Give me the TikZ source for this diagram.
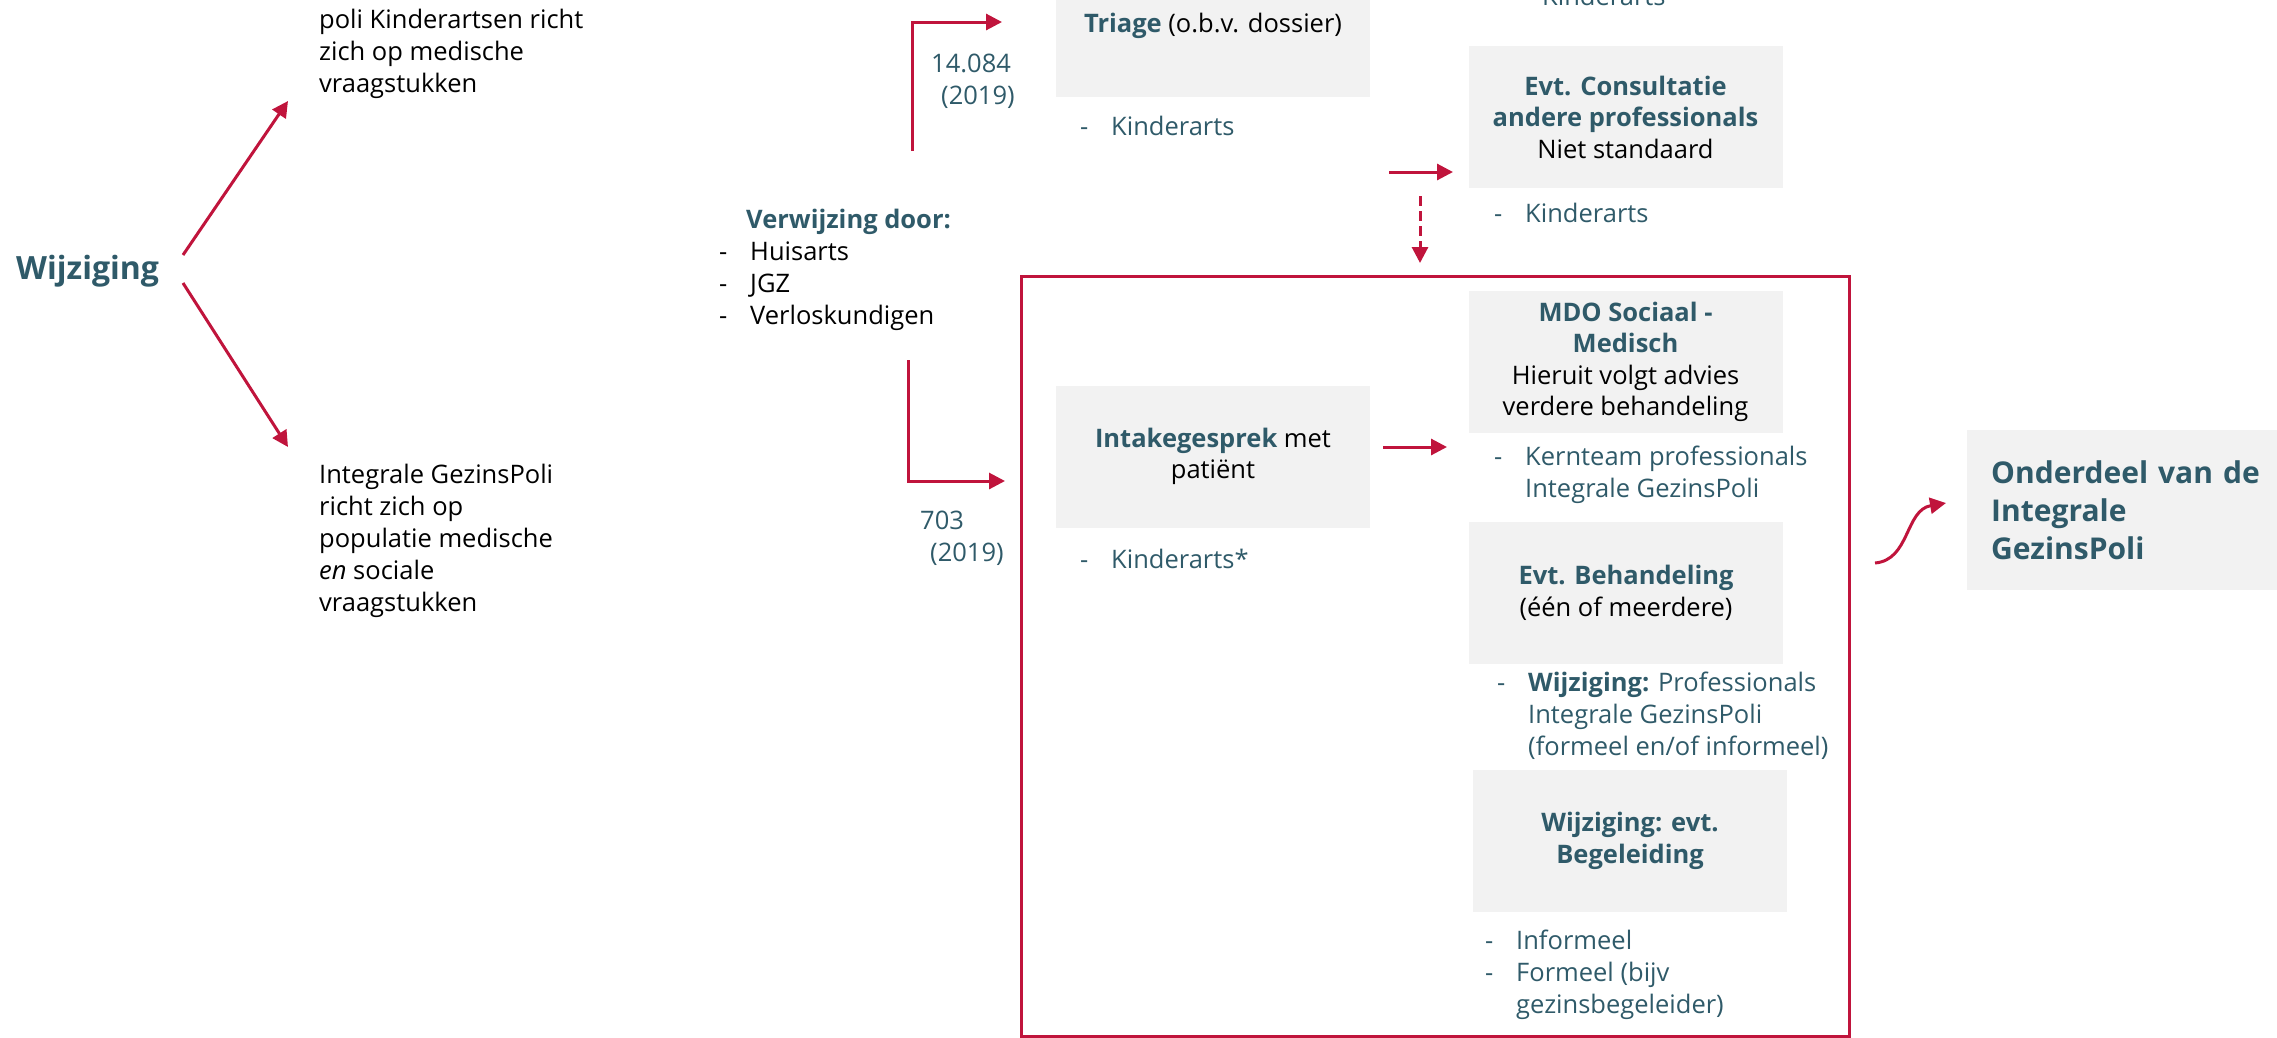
\documentclass[tikz,border=0pt]{standalone}
\usepackage{fontspec}
\setmainfont{Open Sans}
\usetikzlibrary{arrows.meta}
\definecolor{tealc}{HTML}{2F5A69}
\definecolor{redc}{HTML}{C0143C}
\definecolor{boxgray}{HTML}{F2F2F2}
\newlength{\dashw}\setlength{\dashw}{31pt}
\newcommand{\li}[1]{\makebox[\dashw][l]{-}#1}
\newcommand{\lc}[1]{\hspace*{\dashw}#1}
\begin{document}
\begin{tikzpicture}[x=1pt,y=-1pt,
  txt/.style={inner sep=0pt, align=left, font=\fontsize{25.5}{32}\selectfont},
  ttxt/.style={txt, text=tealc},
  box/.style={fill=boxgray, minimum width=314pt, minimum height=142pt, inner sep=0pt, align=center, font=\fontsize{25.5}{31.5}\selectfont},
  arr/.style={draw=redc, line width=3pt, -{Triangle[length=16pt,width=16pt]}}
]
\useasboundingbox (0,0) rectangle (2277,1037);
\clip (0,0) rectangle (2277,1037);

% left part (multi-line nodes: base anchor = last line's baseline)
\node[txt, anchor=base west, text=tealc, font=\fontsize{32}{38}\selectfont\bfseries] (wijz) at (16,279) {Wijziging};
\node[txt, anchor=base west] (poli) at (319,92.5) {poli Kinderartsen richt\\zich op medische\\vraagstukken};
\node[txt, anchor=base west] (igp) at (319,611) {Integrale GezinsPoli\\richt zich op\\populatie medische\\\emph{en} sociale\\vraagstukken};

\coordinate (p1a) at (183,255); \coordinate (p1b) at (288,101);
\coordinate (p2a) at (183,283); \coordinate (p2b) at (288,447);
\draw[arr] (p1a) -- (p1b);
\draw[arr] (p2a) -- (p2b);

% referral
\node[txt, anchor=base west] (verw) at (719,324.5) {\hspace*{27pt}{\color{tealc}\bfseries Verwijzing door:}\\\li{Huisarts}\\\li{JGZ}\\\li{Verloskundigen}};
\node[ttxt, anchor=base west] (n1) at (931,104) {14.084\\\hspace*{10pt}(2019)};
\node[ttxt, anchor=base west] (n2) at (920,561) {703\\\hspace*{10pt}(2019)};

\coordinate (e1a) at (912,151); \coordinate (e1b) at (1002,22);
\coordinate (e2a) at (908,360); \coordinate (e2b) at (1005,481);
\draw[arr] (e1a) |- (e1b);
\draw[arr] (e2a) |- (e2b);

% boxes
\node[box] (triage) at (1213,26) {{\color{tealc}\bfseries Triage} (o.b.v. dossier)};
\node[ttxt, anchor=base west] (l1) at (1080,135) {\li{Kinderarts}};
\node[ttxt, anchor=base west] (l0) at (1511,5) {\li{Kinderarts}};

\node[box] (consult) at (1625.5,117) {{\color{tealc}\bfseries Evt. Consultatie}\\{\color{tealc}\bfseries andere professionals}\\Niet standaard};
\node[ttxt, anchor=base west] (l2) at (1494,222) {\li{Kinderarts}};

\node[draw=redc, line width=2.5pt, minimum width=828pt, minimum height=760pt, inner sep=0pt, anchor=north west] (frame) at (1020,275) {};

\node[box] (mdo) at (1625.5,362) {{\color{tealc}\bfseries MDO Sociaal -}\\{\color{tealc}\bfseries Medisch}\\Hieruit volgt advies\\verdere behandeling};
\node[ttxt, anchor=base west] (l3) at (1494,497) {\li{Kernteam professionals}\\\lc{Integrale GezinsPoli}};

\node[box] (intake) at (1213,456.5) {{\color{tealc}\bfseries Intakegesprek} met\\patiënt};
\node[ttxt, anchor=base west] (l4) at (1080,568) {\li{Kinderarts*}};

\node[box] (behand) at (1626,593) {{\color{tealc}\bfseries Evt. Behandeling}\\(één of meerdere)};
\node[ttxt, anchor=base west] (l5) at (1497,755.5) {\li{{\bfseries Wijziging:} Professionals}\\\lc{Integrale GezinsPoli}\\\lc{(formeel en/of informeel)}};

\node[box] (begel) at (1630,841) {{\color{tealc}\bfseries Wijziging: evt.}\\{\color{tealc}\bfseries Begeleiding}};
\node[ttxt, anchor=base west] (l6) at (1485,1013) {\li{Informeel}\\\li{Formeel (bijv}\\\lc{gezinsbegeleider)}};

\node[fill=boxgray, minimum height=160pt, text width=300pt, inner xsep=24pt, inner ysep=0pt, align=left, anchor=west, text=tealc, font=\fontsize{30}{38}\selectfont\bfseries] (onder) at (1967,510) {\raisebox{-3pt}{\parbox{300pt}{Onderdeel van de\\Integrale\\GezinsPoli}}};

% arrows right side
\coordinate (c1a) at (1389,172); \coordinate (c1b) at (1453,172);
\draw[arr] (c1a) -- (c1b);
\coordinate (d1a) at (1420,196); \coordinate (d1b) at (1420,263);
\draw[arr, dash pattern=on 10pt off 5pt] (d1a) -- (d1b);
\coordinate (m1a) at (1383,447); \coordinate (m1b) at (1447,447);
\draw[arr] (m1a) -- (m1b);
\coordinate (s1a) at (1875,563); \coordinate (s1b) at (1946,503);
\draw[arr] (s1a) .. controls (1910,560) and (1905,510) .. (s1b);
\end{tikzpicture}
\end{document}
